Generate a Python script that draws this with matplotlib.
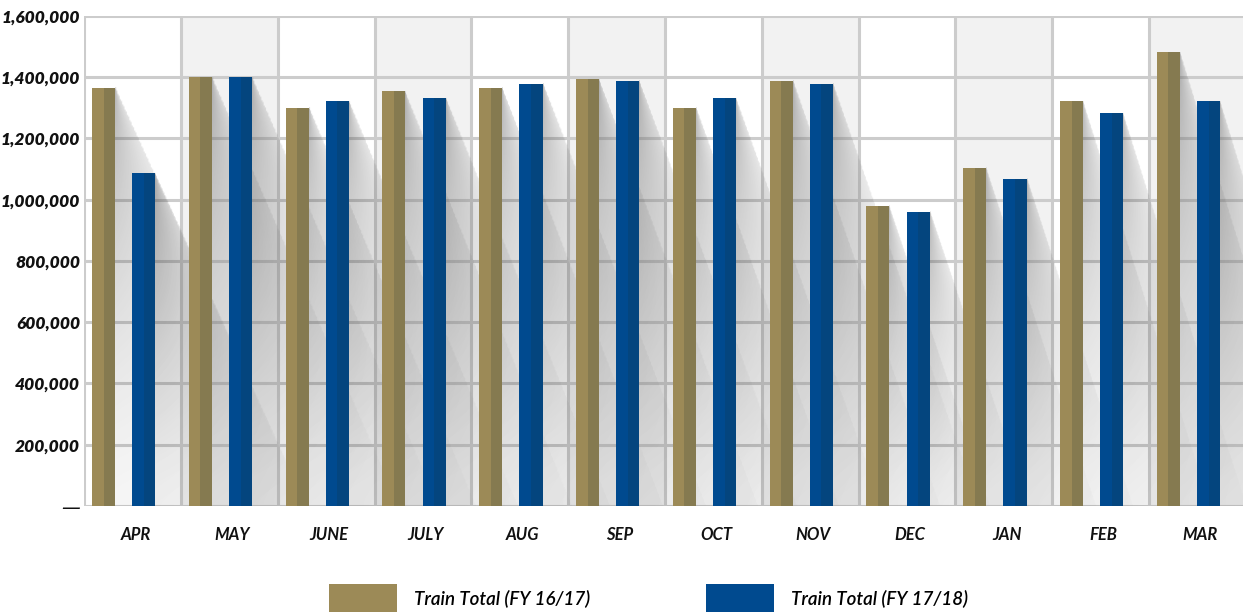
import numpy as np
import matplotlib
matplotlib.use("Agg")
import matplotlib.pyplot as plt
from matplotlib.patches import Patch

plt.rcParams['font.family'] = ['Lato', 'DejaVu Sans']

months = ['APR', 'MAY', 'JUNE', 'JULY', 'AUG', 'SEP', 'OCT', 'NOV', 'DEC', 'JAN', 'FEB', 'MAR']
fy1617 = [1365000, 1400000, 1300000, 1355000, 1365000, 1394000,
          1300000, 1388000, 980000, 1104000, 1322000, 1482000]
fy1718 = [1087000, 1400000, 1322000, 1332000, 1378000, 1388000,
          1332000, 1378000, 960000, 1068000, 1283000, 1322000]
yticks = [0, 200000, 400000, 600000, 800000, 1000000, 1200000, 1400000, 1600000]
ytick_labels = ['—'] + [f'{v:,}' for v in yticks[1:]]
series_names = ['Train Total (FY 16/17)', 'Train Total (FY 17/18)']

gold_light, gold_dark = '#9c8a57', '#857a50'
blue_light, blue_dark = '#004a8f', '#04457e'
grid_col = '#cccccc'

fig = plt.figure(figsize=(12.43, 6.12), dpi=100)
ax = fig.add_axes([0.0678, 0.1732, 0.9345, 0.8007])

x = np.arange(len(months))
w = 0.238
ymax = 1600000
ax.set_xlim(-0.5, len(months) - 0.5)
ax.set_ylim(0, ymax)

# alternating shaded columns
for i in x[1::2]:
    ax.axvspan(i - 0.5, i + 0.5, color='#f2f2f2', zorder=0, lw=0)

# grid
for v in yticks:
    ax.axhline(v, color=grid_col, lw=2.2, zorder=1)
for i in range(len(months) + 1):
    ax.axvline(i - 0.5, color=grid_col, lw=2.2, zorder=1)

# pixel scale of the axes, used to size the long shadows
px_per_unit_y = 490 / ymax
px_per_cat = 96.7


def long_shadow(xr, h, slope):
    """Triangular fading shadow from the top-right corner of a bar down to the baseline."""
    dx = (h * px_per_unit_y / slope) / px_per_cat
    nx, ny = 160, 240
    gx = np.linspace(0, 1, nx)
    gy = np.linspace(0, 1, ny)  # 0 at baseline, 1 at bar top
    X, Y = np.meshgrid(gx, gy)
    width = 1 - Y
    inside = X <= width
    u = np.where(width > 0, X / np.maximum(width, 1e-6), 1)
    alpha = (0.055 + 0.35 * Y ** 1.4) * (1 - 0.6 * u)
    alpha = np.where(inside, alpha, 0)
    img = np.zeros((ny, nx, 4))
    img[..., :3] = 0.3
    img[..., 3] = np.clip(alpha, 0, 1)
    ax.imshow(img, extent=[xr, xr + dx, 0, h], origin='lower', aspect='auto',
              interpolation='bilinear', zorder=2)


gold_x = x - 0.301
blue_x = x + 0.115
for i in x:
    slope = 2.2 + 0.1 * i
    long_shadow(gold_x[i] + w / 2, fy1617[i], slope)
    long_shadow(blue_x[i] + w / 2, fy1718[i], slope)

# two-tone bars: lighter left half, darker right half
ax.bar(gold_x - w / 4, fy1617, w / 2, color=gold_light, zorder=3, lw=0)
ax.bar(gold_x + w / 4, fy1617, w / 2, color=gold_dark, zorder=3, lw=0)
ax.bar(blue_x - w / 4, fy1718, w / 2, color=blue_light, zorder=3, lw=0)
ax.bar(blue_x + w / 4, fy1718, w / 2, color=blue_dark, zorder=3, lw=0)

ax.set_xlim(-0.5, len(months) - 0.5)
ax.set_ylim(0, ymax)
for s in ax.spines.values():
    s.set_visible(False)

ax.set_yticks(yticks)
ax.set_yticklabels(ytick_labels, fontsize=12.5, fontweight='heavy', fontstyle='italic', color='#111111')
zero_lbl = ax.get_yticklabels()[0]
zero_lbl.set_fontfamily('DejaVu Sans')
zero_lbl.set_fontweight('normal')
zero_lbl.set_fontsize(13.5)
ax.set_xticks(x + 0.03)
ax.set_xticklabels(months, fontsize=12, fontweight='bold', fontstyle='italic', color='#111111')
ax.tick_params(axis='y', length=0, pad=3)
ax.tick_params(axis='x', length=0, pad=15)

handles = [Patch(facecolor=gold_light, edgecolor='none'),
           Patch(facecolor=blue_light, edgecolor='none')]
fig.legend(handles, series_names, loc='center', bbox_to_anchor=(0.5217, 0.023), ncol=2,
           frameon=False, handlelength=3.63, handleheight=1.86, handletextpad=0.91,
           columnspacing=6.19, borderpad=0,
           prop={'size': 13.5, 'style': 'italic', 'weight': 'semibold'})

fig.savefig('out.png', dpi=100)
